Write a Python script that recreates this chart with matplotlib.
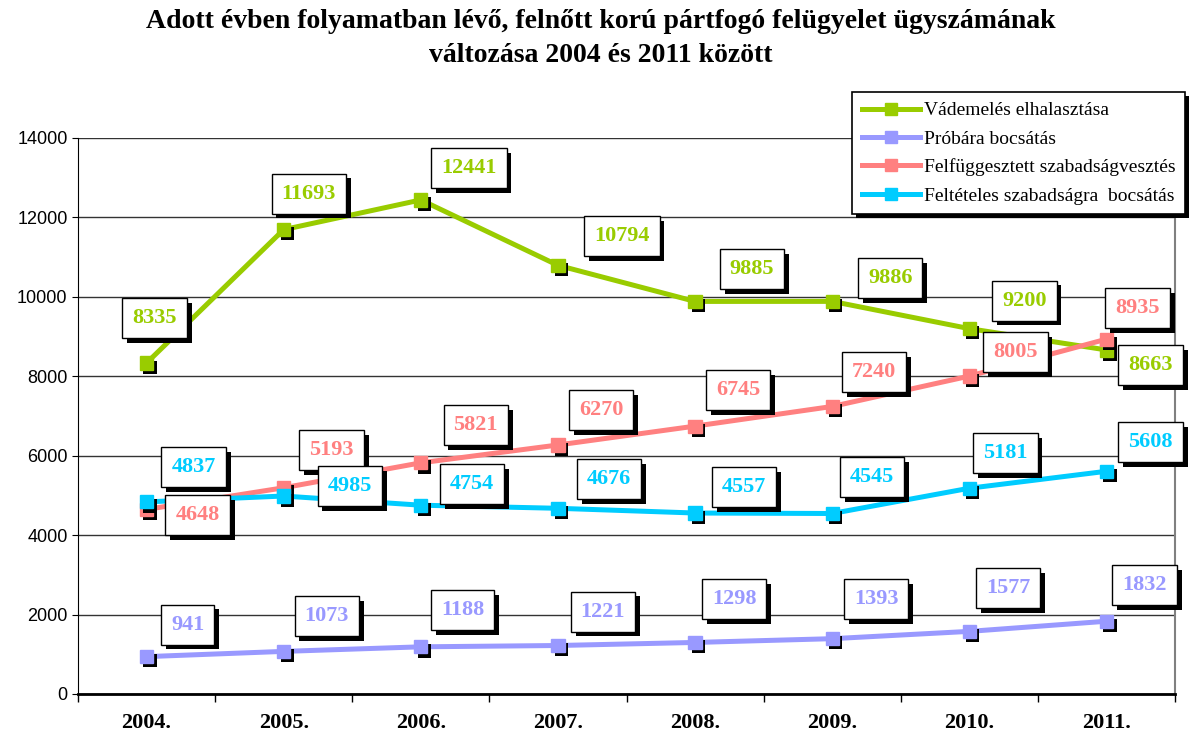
import matplotlib
matplotlib.use('Agg')
from matplotlib import pyplot as plt
from matplotlib import patheffects as pe

years = ['2004.', '2005.', '2006.', '2007.', '2008.', '2009.', '2010.', '2011.']
vademeles = [8335, 11693, 12441, 10794, 9885, 9886, 9200, 8663]
probara = [941, 1073, 1188, 1221, 1298, 1393, 1577, 1832]
felfuggesztett = [4648, 5193, 5821, 6270, 6745, 7240, 8005, 8935]
felteteles = [4837, 4985, 4754, 4676, 4557, 4545, 5181, 5608]

names = ['Vádemelés elhalasztása', 'Próbára bocsátás',
         'Felfüggesztett szabadságvesztés', 'Feltételes szabadságra  bocsátás']
colors = ['#99cc00', '#9999ff', '#ff8080', '#00ccff']

# label box offsets from the point, in pixels (dx right, dy down)
offsets = [
    [(8, -45), (25, -36), (48, -32), (64, -29), (57, -32), (58, -23), (55, -28), (44, 15)],
    [(41, -32), (43, -35), (42, -37), (45, -34), (39, -43), (44, -40), (39, -43), (38, -36)],
    [(51, 6), (48, -38), (55, -38), (43, -35), (43, -36), (42, -34), (46, -24), (31, -31)],
    [(47, -35), (66, -10), (51, -21), (51, -29), (49, -26), (40, -36), (36, -35), (44, -29)],
]

serif = 'Liberation Serif'
W, H = 1202, 733
fig = plt.figure(figsize=(W / 100, H / 100), dpi=100)
ax = fig.add_axes([78 / W, 39 / H, (1175 - 78) / W, 556 / H])

x = list(range(len(years)))
series = [vademeles, probara, felfuggesztett, felteteles]
shadow = [pe.SimplePatchShadow(offset=(2.5, -3), shadow_rgbFace='black', alpha=1), pe.Normal()]

for s, c, name in zip(series, colors, names):
    ax.plot(x, s, color=c, lw=3.6, zorder=2, solid_capstyle='butt')
    ax.plot(x, s, ls='none', marker='s', ms=9.5, color=c, zorder=2.5, path_effects=shadow)
    ax.plot([], [], color=c, lw=3.6, marker='s', ms=8, label=name)

for s, c, offs in zip(series, colors, offsets):
    for i, v in enumerate(s):
        dx, dy = offs[i]
        ax.annotate(str(v), (i, v), xytext=(dx, -dy), textcoords='offset pixels',
                    ha='center', va='center', fontsize=16, fontweight='bold',
                    family=serif, color=c, zorder=4,
                    bbox=dict(boxstyle='square,pad=0.45', fc='white', ec='black', lw=1,
                              path_effects=[pe.SimplePatchShadow(offset=(3.5, -3.5),
                                            shadow_rgbFace='black', alpha=1), pe.Normal()]))

ax.set_xlim(-0.5, 7.5)
ax.set_ylim(0, 14000)
ax.set_yticks(range(0, 14001, 2000))
ax.grid(axis='y', color='#333333', lw=1)
ax.set_axisbelow(True)

ax.set_xticks([i - 0.5 for i in range(9)])
ax.set_xticklabels([])
ax.set_xticks(x, minor=True)
ax.set_xticklabels(years, minor=True, fontsize=16, fontweight='bold', family=serif)
ax.tick_params(axis='x', which='major', length=6, width=1, direction='out')
ax.tick_params(axis='x', which='minor', length=0, pad=14)
ax.tick_params(axis='y', length=4, labelsize=13)
for lab in ax.get_yticklabels():
    lab.set_family('Liberation Sans')

ax.spines['top'].set_visible(False)
ax.spines['right'].set_color('#808080')
ax.spines['right'].set_linewidth(1.5)
ax.spines['left'].set_color('black')
ax.spines['bottom'].set_color('black')
ax.spines['bottom'].set_linewidth(2)

leg = ax.legend(loc='upper left', bbox_to_anchor=(852 / W, 1 - 92 / H),
                bbox_transform=fig.transFigure, prop={'family': serif, 'size': 14},
                frameon=True, fancybox=False, edgecolor='black', framealpha=1,
                handlelength=3.0, handletextpad=0.2, labelspacing=0.55,
                borderpad=0.5, borderaxespad=0)
leg.get_frame().set_linewidth(1.2)
leg.get_frame().set_path_effects([pe.SimplePatchShadow(offset=(3, -3), shadow_rgbFace='black', alpha=1),
                                  pe.Normal()])
leg.set_zorder(5)

fig.text(0.5, 1 - 22 / H, 'Adott évben folyamatban lévő, felnőtt korú pártfogó felügyelet ügyszámának',
         ha='center', va='center', fontsize=20, fontweight='bold', family=serif)
fig.text(0.5, 1 - 55 / H, 'változása 2004 és 2011 között',
         ha='center', va='center', fontsize=20, fontweight='bold', family=serif)

fig.savefig('out.png', dpi=100)
